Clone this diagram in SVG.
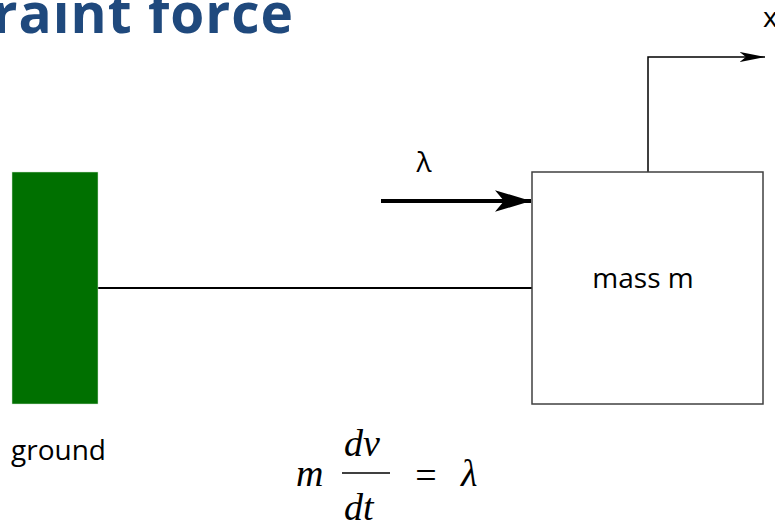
<svg xmlns="http://www.w3.org/2000/svg" width="775" height="522" viewBox="0 0 775 522">
<defs>
<style>
.lbl{font-family:"Open Sans","Liberation Sans",sans-serif;font-size:28px;fill:#000}
.math{font-family:"Liberation Serif","DejaVu Serif",serif;font-style:italic;fill:#000;font-size:38px}
.wire{stroke:#000;fill:none}
</style>
<marker id="ah" viewBox="0 0 10 10" refX="10" refY="5" markerWidth="9" markerHeight="9" markerUnits="strokeWidth" orient="auto">
<path d="M0,2 L10,5 L0,8 L2.5,5 Z" fill="#000"/>
</marker>
<marker id="ah2" viewBox="0 0 10 10" refX="10" refY="5" markerWidth="17" markerHeight="17" markerUnits="strokeWidth" orient="auto">
<path d="M0,3 L10,5 L0,7 L2.5,5 Z" fill="#000"/>
</marker>
</defs>
<rect width="775" height="522" fill="#fff"/>
<text x="294" y="33" text-anchor="end" font-family="'Open Sans','Liberation Sans',sans-serif" font-weight="700" font-size="55" letter-spacing="1" fill="#1F497D">Constraint force</text>
<g id="connectors">
<line class="wire" x1="98" y1="288" x2="532" y2="288" stroke-width="2"/>
<line class="wire" x1="381" y1="201" x2="531" y2="201" stroke-width="4" marker-end="url(#ah)"/>
<polyline class="wire" points="648,172 648,57 765,57" stroke-width="1.5" marker-end="url(#ah2)"/>
</g>
<g id="ground">
<rect x="12" y="172" width="86" height="232" fill="#007000" stroke="#cfe5cf" stroke-width="0.5"/>
<text class="lbl" x="11" y="460" font-size="29">ground</text>
</g>
<g id="mass">
<rect x="532" y="172" width="231" height="232" fill="#fff" stroke="#404040" stroke-width="1.5"/>
<text class="lbl" x="643" y="288" text-anchor="middle">mass m</text>
</g>
<g id="lambda-label">
<text class="lbl" x="424" y="172" text-anchor="middle" font-size="26">λ</text>
</g>
<g id="x-label">
<text class="lbl" x="763" y="27" font-size="24">x</text>
</g>
<g id="equation">
<text class="math" x="296" y="486">m</text>
<text class="math" x="344" y="456">dv</text>
<line x1="342" y1="473" x2="390" y2="473" stroke="#000" stroke-width="1.5"/>
<text class="math" x="344" y="520">dt</text>
<text x="426" y="488" text-anchor="middle" font-family="'Liberation Serif',serif" font-size="38" fill="#000">=</text>
<text class="math" x="461" y="486" font-size="42">λ</text>
</g>
</svg>
